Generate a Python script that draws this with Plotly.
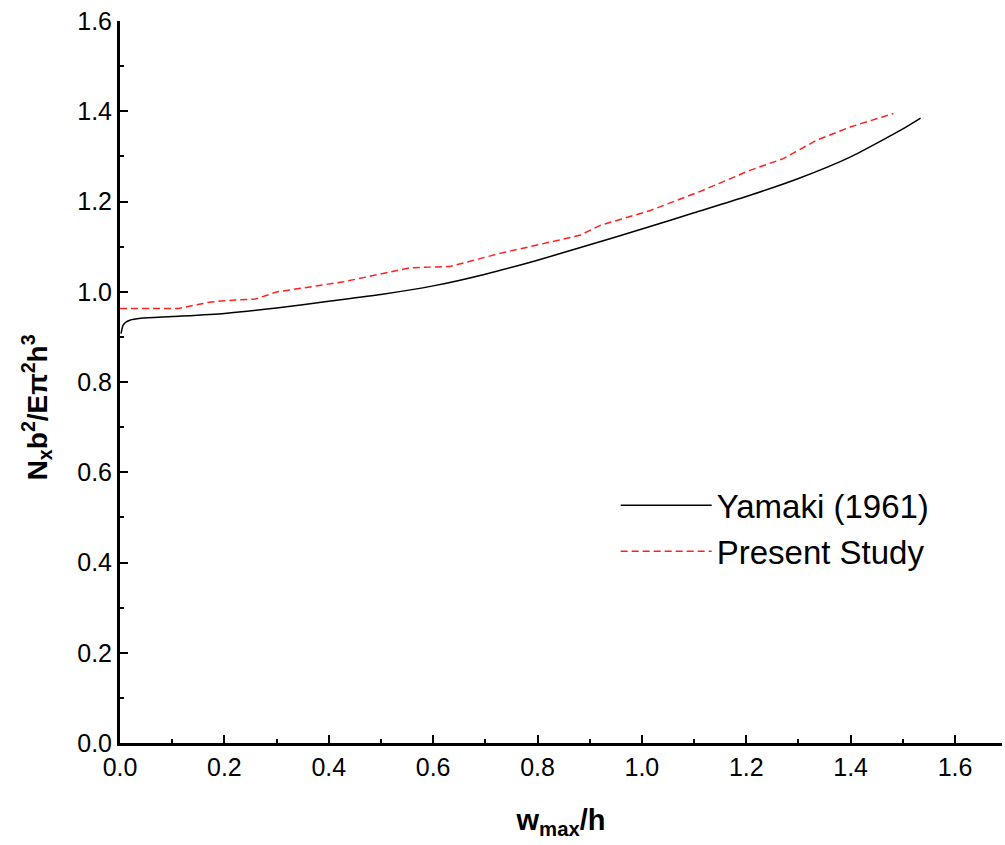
import plotly.graph_objects as go

# Yamaki (1961) reference curve
yamaki_x = [0.002, 0.006, 0.012, 0.019, 0.040, 0.100, 0.200, 0.300, 0.400, 0.500,
            0.600, 0.700, 0.800, 0.900, 1.000, 1.100, 1.200, 1.300, 1.400, 1.500,
            1.534]
yamaki_y = [0.907, 0.926, 0.933, 0.937, 0.941, 0.945, 0.952, 0.964, 0.979, 0.994,
            1.013, 1.039, 1.070, 1.104, 1.139, 1.175, 1.211, 1.251, 1.299, 1.361,
            1.385]

# Present study curve
present_x = [0.000, 0.112, 0.172, 0.200, 0.260, 0.300, 0.428, 0.543, 0.556, 0.632,
             0.728, 0.824, 0.881, 0.920, 1.016, 1.111, 1.207, 1.271, 1.335, 1.399,
             1.482]
present_y = [0.963, 0.963, 0.977, 0.980, 0.984, 0.9995, 1.022, 1.050, 1.053, 1.056,
             1.085, 1.110, 1.125, 1.147, 1.180, 1.222, 1.269, 1.295, 1.336, 1.365,
             1.395]

series_names = ["Yamaki (1961)", "Present Study"]
x_title = "<b>w<sub>max</sub>/h</b>"
y_title = "<b>N<sub>x</sub>b<sup>2</sup>/E\u03c0<sup>2</sup>h<sup>3</sup></b>"

FONT = "Arial, Liberation Sans, sans-serif"

fig = go.Figure()
fig.add_trace(go.Scatter(x=yamaki_x, y=yamaki_y, mode="lines", name=series_names[0],
                         line=dict(color="black", width=1.5, shape="spline", smoothing=0.6)))
fig.add_trace(go.Scatter(x=present_x, y=present_y, mode="lines", name=series_names[1],
                         line=dict(color="#ff2020", width=1.5, dash="7px,4px")))

axis_common = dict(
    showgrid=False, zeroline=False, showline=True, linecolor="black", linewidth=3,
    ticks="inside", ticklen=8, tickwidth=2, tickcolor="black",
    tickformat=".1f", dtick=0.2, tick0=0,
    minor=dict(ticks="inside", ticklen=4, tickwidth=2, tickcolor="black", dtick=0.1),
    tickfont=dict(family=FONT, size=25, color="black"),
)

fig.update_xaxes(range=[0, 1.69], **axis_common,
                 title=dict(text=x_title, font=dict(family=FONT, size=29, color="black"),
                            standoff=30))
fig.update_yaxes(range=[0, 1.6], **axis_common)

fig.add_annotation(text=y_title, xref="paper", yref="paper", x=-0.094, y=0.465,
                   xanchor="center", yanchor="middle",
                   textangle=-90, showarrow=False,
                   font=dict(family=FONT, size=28, color="black"))

fig.update_layout(
    width=1005, height=845,
    margin=dict(l=120, r=3, t=21, b=102),
    paper_bgcolor="white", plot_bgcolor="white",
    showlegend=True,
    legend=dict(x=0.562, y=0.368, xanchor="left", yanchor="top",
                font=dict(family=FONT, size=33, color="black"),
                bgcolor="rgba(0,0,0,0)", itemwidth=91, tracegroupgap=0),
)

fig.write_html("out.html")
